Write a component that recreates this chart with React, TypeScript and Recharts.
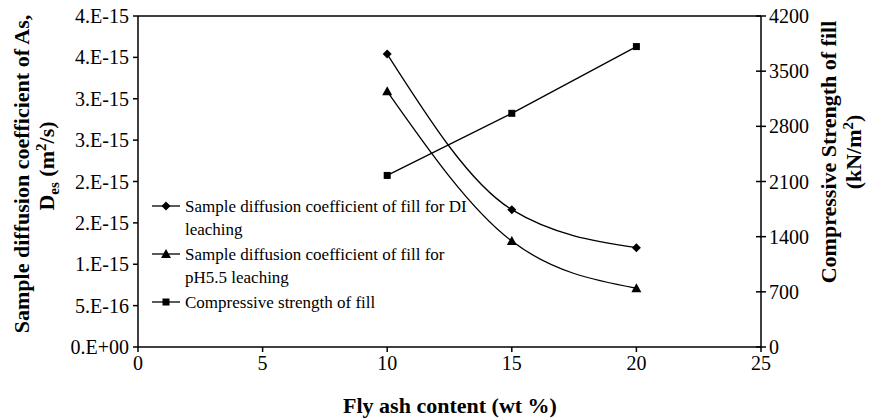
import { ComposedChart, Line, XAxis, YAxis, ReferenceLine } from 'recharts';

const flyAsh = [10, 15, 20];
const diffusionDI = [3.54e-15, 1.66e-15, 1.2e-15];
const diffusionPH = [3.09e-15, 1.28e-15, 0.71e-15];
const strength = [2177, 2965, 3812];

const xTicks = [0, 5, 10, 15, 20, 25];
const leftTicks = [0, 5e-16, 1e-15, 1.5e-15, 2e-15, 2.5e-15, 3e-15, 3.5e-15, 4e-15];
const leftTickLabels = ['0.E+00', '5.E-16', '1.E-15', '2.E-15', '2.E-15', '3.E-15', '3.E-15', '4.E-15', '4.E-15'];
const rightTicks = [0, 700, 1400, 2100, 2800, 3500, 4200];

const legendItems = [
    { lines: ['Sample diffusion coefficient of fill for DI', 'leaching'], marker: 'diamond' },
    { lines: ['Sample diffusion coefficient of fill for', 'pH5.5 leaching'], marker: 'triangle' },
    { lines: ['Compressive strength of fill'], marker: 'square' },
];

const FONT = '"Liberation Serif", "Times New Roman", serif';

const data = flyAsh.map((x, i) => ({
    x,
    di: diffusionDI[i],
    ph: diffusionPH[i],
    cs: strength[i],
}));

function Marker({ type, cx, cy }: { type: string; cx: number; cy: number }) {
    if (type === 'diamond') {
        return <polygon points={`${cx},${cy - 4.5} ${cx + 4.5},${cy} ${cx},${cy + 4.5} ${cx - 4.5},${cy}`} fill="#000" />;
    }
    if (type === 'triangle') {
        return <polygon points={`${cx},${cy - 5} ${cx + 5},${cy + 4} ${cx - 5},${cy + 4}`} fill="#000" />;
    }
    return <rect x={cx - 3.5} y={cy - 3.5} width={7} height={7} fill="#000" />;
}

const dot = (type: string) => (props: any) => {
    const { cx, cy, index } = props;
    return <Marker key={`${type}-${index}`} type={type} cx={cx} cy={cy} />;
};

// right axis: tick marks cross the axis line
function RightTick(props: any) {
    const { x, y, payload } = props;
    const ax = x - 9;
    return (
        <g>
            <line x1={ax - 5} y1={y} x2={ax + 5} y2={y} stroke="#000" strokeWidth={1.5} />
            <text x={ax + 8} y={y} dy="0.35em" textAnchor="start" fontFamily={FONT} fontSize={20} fill="#000">
                {payload.value}
            </text>
        </g>
    );
}

export default function App() {
    const tickStyle = { fontFamily: FONT, fontSize: 20, fill: '#000' };
    return (
        <div style={{ position: 'absolute', left: 0, top: 0, width: 869, height: 418, background: '#fff' }}>
            <ComposedChart width={869} height={418} data={data} margin={{ top: 16, right: 0, bottom: 31, left: 0 }}>
                <XAxis
                    dataKey="x"
                    type="number"
                    domain={[0, 25]}
                    ticks={xTicks}
                    height={40}
                    tick={tickStyle}
                    tickSize={5}
                    tickMargin={4}
                    stroke="#000"
                    strokeWidth={1.5}
                />
                <YAxis
                    yAxisId="left"
                    domain={[0, 4e-15]}
                    ticks={leftTicks}
                    width={138}
                    tick={tickStyle}
                    tickFormatter={(v: number, i: number) => leftTickLabels[i]}
                    tickSize={5}
                    tickMargin={4}
                    stroke="#000"
                    strokeWidth={1.5}
                    allowDataOverflow
                />
                <YAxis
                    yAxisId="right"
                    orientation="right"
                    domain={[0, 4200]}
                    ticks={rightTicks}
                    width={108}
                    tick={<RightTick />}
                    tickLine={false}
                    tickSize={5}
                    tickMargin={4}
                    stroke="#000"
                    strokeWidth={1.5}
                />
                <ReferenceLine yAxisId="left" y={4e-15} stroke="#000" strokeWidth={1.5} />
                <Line
                    yAxisId="left"
                    dataKey="di"
                    type="monotone"
                    stroke="#000"
                    strokeWidth={1.3}
                    dot={dot('diamond')}
                    isAnimationActive={false}
                />
                <Line
                    yAxisId="left"
                    dataKey="ph"
                    type="monotone"
                    stroke="#000"
                    strokeWidth={1.3}
                    dot={dot('triangle')}
                    isAnimationActive={false}
                />
                <Line
                    yAxisId="right"
                    dataKey="cs"
                    type="linear"
                    stroke="#000"
                    strokeWidth={1.3}
                    dot={dot('square')}
                    isAnimationActive={false}
                />
            </ComposedChart>
            <svg
                width={869}
                height={418}
                style={{ position: 'absolute', left: 0, top: 0, pointerEvents: 'none' }}
                fontFamily={FONT}
            >
                {/* left axis title */}
                <text transform="rotate(-90 21 174)" x={21} y={174} textAnchor="middle" dy="0.35em" fontSize={22} fontWeight="bold">
                    Sample diffusion coefficient of As,
                </text>
                <text transform="rotate(-90 46 166)" x={46} y={166} textAnchor="middle" dy="0.35em" fontSize={22} fontWeight="bold">
                    D<tspan fontSize={15} dy={5}>es</tspan>
                    <tspan dy={-5}> (m</tspan>
                    <tspan fontSize={15} dy={-8}>2</tspan>
                    <tspan dy={8}>/s)</tspan>
                </text>
                {/* right axis title */}
                <text transform="rotate(-90 828 152)" x={828} y={152} textAnchor="middle" dy="0.35em" fontSize={22} fontWeight="bold">
                    Compressive Strength of fill
                </text>
                <text transform="rotate(-90 853 152)" x={853} y={152} textAnchor="middle" dy="0.35em" fontSize={22} fontWeight="bold">
                    (kN/m<tspan fontSize={15} dy={-8}>2</tspan>
                    <tspan dy={8}>)</tspan>
                </text>
                {/* x axis title */}
                <text x={450} y={405} textAnchor="middle" dy="0.35em" fontSize={22} fontWeight="bold">
                    Fly ash content (wt %)
                </text>
                {/* legend */}
                {legendItems.map((item, i) => {
                    const y = 206 + i * 48;
                    return (
                        <g key={item.marker}>
                            <line x1={152} y1={y} x2={180} y2={y} stroke="#000" strokeWidth={1.3} />
                            <Marker type={item.marker} cx={166} cy={y} />
                            {item.lines.map((t, j) => (
                                <text key={j} x={185} y={y + j * 23} dy="0.35em" fontSize={17}>
                                    {t}
                                </text>
                            ))}
                        </g>
                    );
                })}
            </svg>
        </div>
    );
}
